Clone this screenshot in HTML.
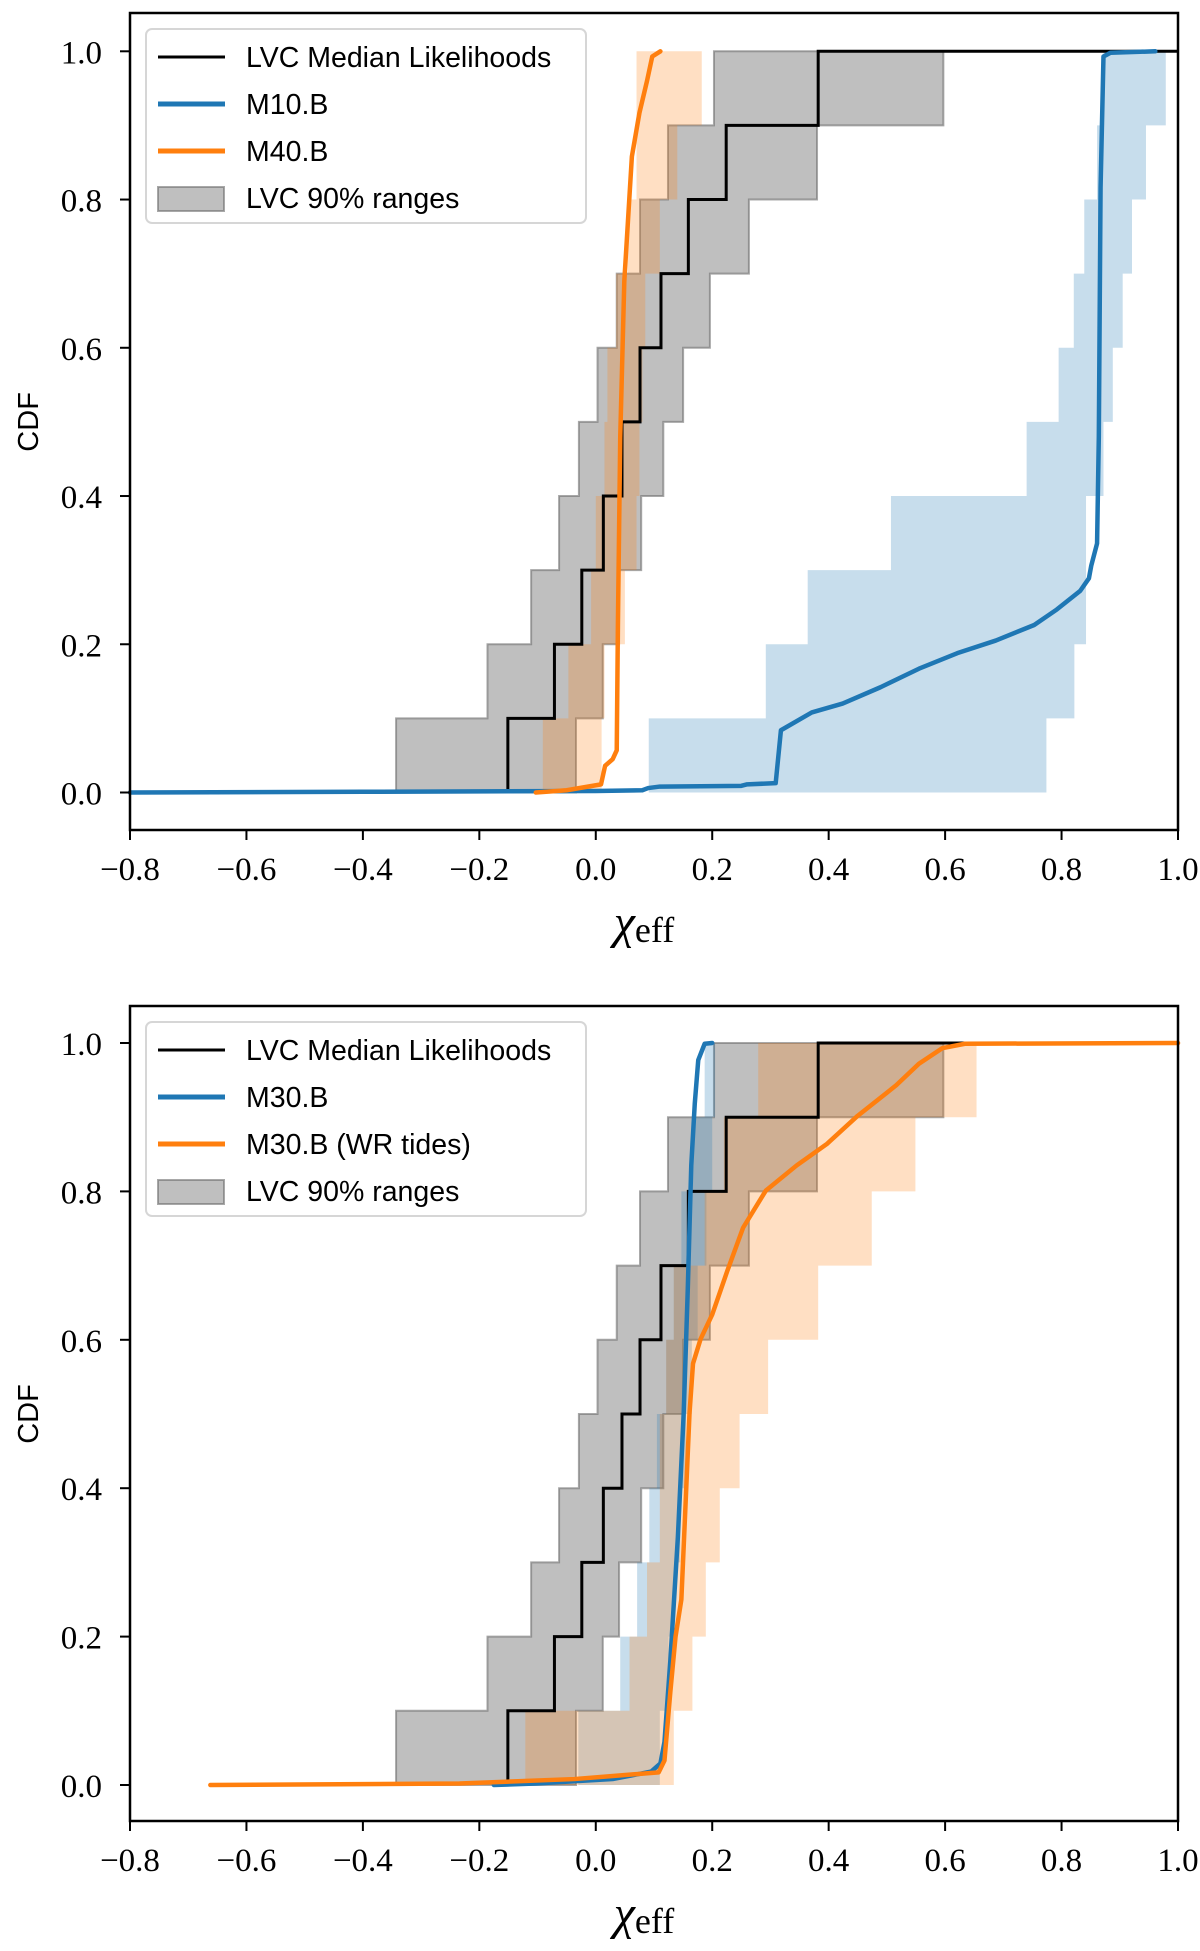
<!DOCTYPE html>
<html><head><meta charset="utf-8"><style>
html,body{margin:0;padding:0;background:#fff;}
svg{display:block;}
.tick{font-family:"Liberation Serif",serif;font-size:33px;fill:#000;}
.leg{font-family:"Liberation Sans",sans-serif;font-size:28.5px;fill:#000;}
.lab{font-family:"Liberation Sans",sans-serif;font-size:29px;fill:#000;}
.xl{font-family:"Liberation Serif",serif;font-size:48px;fill:#000;}
</style></head><body>
<svg id="fig" width="1200" height="1951" viewBox="0 0 1200 1951" xmlns="http://www.w3.org/2000/svg"></svg>
<script>
// ---- data ----
const xTicks = [-0.8,-0.6,-0.4,-0.2,0.0,0.2,0.4,0.6,0.8,1.0];
const yTicks = [0.0,0.2,0.4,0.6,0.8,1.0];
const lvcMedian = [-0.151,-0.071,-0.024,0.013,0.045,0.076,0.112,0.159,0.224,0.382];
const lvcLow = [-0.343,-0.186,-0.111,-0.063,-0.029,0.003,0.036,0.076,0.124,0.203];
const lvcHigh = [-0.034,0.012,0.040,0.078,0.116,0.150,0.196,0.263,0.380,0.597];
// top panel
const m40Low = [-0.091,-0.047,-0.008,0.000,0.015,0.020,0.035,0.055,0.070,0.070];
const m40High = [0.010,0.015,0.050,0.070,0.075,0.080,0.085,0.110,0.140,0.182];
const m10Low = [0.091,0.292,0.364,0.507,0.740,0.795,0.821,0.839,0.861,0.872];
const m10High = [0.774,0.822,0.842,0.842,0.872,0.888,0.905,0.921,0.945,0.979];
const m10X = [-0.8,-0.4,0.0,0.08,0.09,0.11,0.25,0.26,0.309,0.318,0.371,0.424,0.489,0.555,0.621,0.687,0.753,0.792,0.832,0.847,0.851,0.861,0.864,0.867,0.872,0.884,0.961];
const m10Y = [0,0.001,0.002,0.003,0.006,0.008,0.009,0.011,0.0126,0.084,0.108,0.12,0.142,0.167,0.188,0.205,0.226,0.247,0.272,0.289,0.306,0.336,0.48,0.816,0.993,0.998,1.0];
const m40X = [-0.103,-0.05,0.009,0.016,0.029,0.036,0.038,0.042,0.049,0.062,0.075,0.088,0.097,0.111];
const m40Y = [0,0.003,0.011,0.036,0.045,0.057,0.226,0.479,0.69,0.858,0.917,0.96,0.993,1.0];
// bottom panel
const wrLow = [-0.121,0.058,0.088,0.110,0.110,0.121,0.134,0.187,0.220,0.279];
const wrHigh = [0.134,0.166,0.189,0.213,0.247,0.296,0.382,0.474,0.549,0.654];
const m30Low = [-0.030,0.042,0.071,0.092,0.105,0.121,0.134,0.147,0.167,0.187];
const m30High = [0.110,0.125,0.135,0.145,0.155,0.165,0.175,0.190,0.200,0.205];
const m30X = [-0.175,-0.103,0.029,0.095,0.111,0.118,0.128,0.141,0.151,0.158,0.164,0.17,0.176,0.187,0.2];
const m30Y = [0,0.002,0.008,0.018,0.029,0.058,0.167,0.334,0.501,0.668,0.835,0.918,0.977,0.999,1.0];
const wrX = [-0.662,-0.234,-0.037,0.108,0.118,0.128,0.137,0.147,0.154,0.161,0.167,0.18,0.2,0.226,0.253,0.292,0.345,0.397,0.45,0.516,0.555,0.595,0.634,1.0];
const wrY = [0,0.002,0.008,0.017,0.033,0.125,0.2,0.25,0.375,0.501,0.568,0.601,0.634,0.693,0.751,0.801,0.835,0.864,0.902,0.943,0.972,0.993,0.999,1.0];

const NS='http://www.w3.org/2000/svg';
const svg=document.getElementById('fig');
function mk(tag,attrs,parent){const e=document.createElementNS(NS,tag);for(const k in attrs)e.setAttribute(k,attrs[k]);(parent||svg).appendChild(e);return e;}

function panel(P){
  const g=mk('g',{});
  
  
  const xs=v=>P.L+(v+0.8)/1.8*(P.R-P.L);
  const ys=v=>P.y0-v*(P.y0-P.y1);
  function band(lo,hi,fill,stroke,name){
    let pts=[];
    for(let k=0;k<lo.length;k++){pts.push([xs(lo[k]),ys(k/10)],[xs(lo[k]),ys((k+1)/10)]);}
    for(let k=hi.length-1;k>=0;k--){pts.push([xs(hi[k]),ys((k+1)/10)],[xs(hi[k]),ys(k/10)]);}
    const p=mk('polygon',{points:pts.map(a=>a.join(',')).join(' '),fill:fill,stroke:stroke,'stroke-width':2},g);
    
    
  }
  function line(X,Y,color,w,name){
    const p=mk('polyline',{points:X.map((x,i)=>xs(x)+','+ys(Y[i])).join(' '),fill:'none',stroke:color,'stroke-width':w,'stroke-linejoin':'round','stroke-linecap':'round'},g);
    
    
  }
  band(lvcLow,lvcHigh,'rgba(128,128,128,0.5)','rgba(110,110,110,0.6)','lvc-90-range-band');
  P.bands.forEach(b=>band(b.lo,b.hi,b.fill,'none',b.name));
  let pts=[];
  for(let k=0;k<lvcMedian.length;k++){pts.push([xs(lvcMedian[k]),ys(k/10)],[xs(lvcMedian[k]),ys((k+1)/10)]);}
  pts.push([xs(1.0),ys(1.0)]);
  const med=mk('polyline',{points:pts.map(a=>a.join(',')).join(' '),fill:'none',stroke:'#000','stroke-width':3},g);
  
  
  P.lines.forEach(l=>line(l.x,l.y,l.c,4.5,l.name));
  const box=mk('rect',{x:P.L,y:P.T,width:P.R-P.L,height:P.B-P.T,fill:'none',stroke:'#000','stroke-width':2.5},g);
  
  
  xTicks.forEach(v=>{
    mk('line',{x1:xs(v),x2:xs(v),y1:P.B,y2:P.B+10,stroke:'#000','stroke-width':2},g);
    const t=mk('text',{x:xs(v),y:P.B+50,'text-anchor':'middle',class:'tick'},g);
    t.textContent=(v<0?'\u2212':'')+Math.abs(v).toFixed(1);
    
    
  });
  yTicks.forEach(v=>{
    mk('line',{x1:P.L-10,x2:P.L,y1:ys(v),y2:ys(v),stroke:'#000','stroke-width':2},g);
    const t=mk('text',{x:P.L-28,y:ys(v)+12,'text-anchor':'end',class:'tick'},g);
    t.textContent=v.toFixed(1);
    
    
  });
  const yl=mk('text',{x:0,y:0,'text-anchor':'middle',class:'lab',transform:`translate(38,${(P.y0+P.y1)/2}) rotate(-90)`},g);
  yl.textContent='CDF';
  
  
  const xl=mk('text',{x:(P.L+P.R)/2-10,y:P.B+108,'text-anchor':'middle',class:'xl'},g);
  xl.innerHTML='<tspan font-style="italic">χ</tspan><tspan font-size="36" dy="4">eff</tspan>';
  
  
  const lg=mk('g',{},g);
  
  
  mk('rect',{x:146,y:P.legT,width:440,height:194,rx:6,fill:'rgba(255,255,255,0.8)',stroke:'#d6d6d6','stroke-width':2},lg);
  P.legend.forEach((e,i)=>{
    const cy=P.legT+28+i*47;
    if(e.patch){mk('rect',{x:158,y:cy-11,width:66,height:24,fill:'rgba(128,128,128,0.5)',stroke:'rgba(110,110,110,0.6)','stroke-width':2},lg);}
    else mk('line',{x1:158,x2:225,y1:cy,y2:cy,stroke:e.c,'stroke-width':e.w},lg);
    const t=mk('text',{x:246,y:cy+10,class:'leg'},lg);
    t.textContent=e.t;
    
    
  });
}
const blueFill='rgba(31,119,180,0.25)', orangeFill='rgba(255,127,14,0.25)';
panel({name:'top-panel',L:130,R:1178,T:13,B:830,y1:51.3,y0:792.5,legT:29,
  bands:[{lo:m40Low,hi:m40High,fill:orangeFill,name:'m40b-band'},{lo:m10Low,hi:m10High,fill:blueFill,name:'m10b-band'}],
  lines:[{x:m10X,y:m10Y,c:'#1f77b4',name:'m10b-line'},{x:m40X,y:m40Y,c:'#ff7f0e',name:'m40b-line'}],
  legend:[{t:'LVC Median Likelihoods',c:'#000',w:3},{t:'M10.B',c:'#1f77b4',w:5},{t:'M40.B',c:'#ff7f0e',w:5},{t:'LVC 90% ranges',patch:true}]});
panel({name:'bottom-panel',L:130,R:1178,T:1006,B:1821,y1:1043,y0:1785,legT:1022,
  bands:[{lo:m30Low,hi:m30High,fill:blueFill,name:'m30b-band'},{lo:wrLow,hi:wrHigh,fill:orangeFill,name:'m30b-wr-band'}],
  lines:[{x:m30X,y:m30Y,c:'#1f77b4',name:'m30b-line'},{x:wrX,y:wrY,c:'#ff7f0e',name:'m30b-wr-line'}],
  legend:[{t:'LVC Median Likelihoods',c:'#000',w:3},{t:'M30.B',c:'#1f77b4',w:5},{t:'M30.B (WR tides)',c:'#ff7f0e',w:5},{t:'LVC 90% ranges',patch:true}]});
</script>
</body></html>
